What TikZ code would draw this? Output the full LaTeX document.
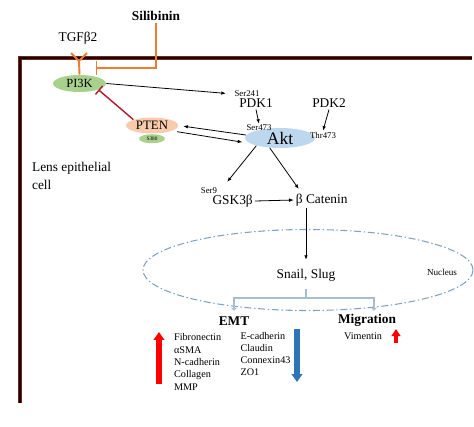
\documentclass[tikz,border=0pt]{standalone}
\usepackage{fontspec}
\setmainfont{Liberation Serif}
\usepackage{xcolor}
\usepackage{tikz}
\usetikzlibrary{positioning,arrows.meta,shapes.geometric,calc}
\definecolor{pikgreen}{HTML}{A9D18E}
\definecolor{ptenpeach}{HTML}{F8CBAD}
\definecolor{aktblue}{HTML}{BDD7EE}
\definecolor{silorange}{HTML}{ED7D31}
\definecolor{ptenred}{HTML}{B0192C}
\definecolor{nucblue}{HTML}{7FA2C4}
\definecolor{branchgray}{HTML}{A9BDD0}
\definecolor{downblue}{HTML}{2E75B6}
\definecolor{cellred}{HTML}{8B1A1A}
\tikzset{
	plain/.style = {inner sep=1pt, font=\fontsize{7.6}{9.9}\selectfont},
	site/.style = {inner sep=0.5pt, font=\fontsize{5}{6}\selectfont},
	heading/.style = {inner sep=1pt, font=\bfseries\fontsize{7.6}{9}\selectfont},
	protein/.style = {ellipse, inner sep=0, font=\fontsize{7.3}{9}\selectfont},
	marker/.style = {inner sep=1pt, align=left, font=\fontsize{5.8}{7}\selectfont},
	act/.style = {-{Latex[length=2.6pt,width=2pt]}, line width=0.45pt},
	block/.style = {-{Bar[width=2.6mm]}, line width=0.8pt},
	branch/.style = {draw=branchgray, line width=0.6pt},
	bigarrow/.style = {-{Triangle[length=4.5pt,width=6pt]}, line width=3.4pt}
}

\begin{document}
\begin{tikzpicture}[x=0.2mm, y=-0.2mm]
	\useasboundingbox (0,0) rectangle (474,426);
	
	\draw [draw=cellred, line width=0.5pt, double=black, double distance=1.5pt] (20,403) -- (20,58) -- (472,58);
	
	\node [heading] (sil) at (156,16) {Silibinin};
	\node [plain] (tgf) at (78,38) {TGFβ2};
	\node [protein, fill=pikgreen, minimum width=10.6mm, minimum height=3.4mm, font=\fontsize{7.1}{9}\selectfont] (pik) at (79.5,83.5) {PI3K};
	\coordinate (rca) at (71,53);
	\coordinate (rcb) at (87,53);
	\coordinate (rcp) at (79,61);
	\coordinate (silbar) at (96,68);
	\draw [silorange, line width=1.1pt] (rca) -- (rcp) -- (rcb);
	\draw [silorange, line width=1.1pt] (rcp) -- (pik.north);
	\draw [block, silorange, -{Bar[width=2.8mm]}] (sil.south) |- (silbar);
	
	\node [site] (sera) at (247,94) {Ser241};
	\node [plain] (pdka) at (256,103) {PDK1};
	\node [plain] (pdkb) at (329,103) {PDK2};
	\node [protein, fill=aktblue, minimum width=14mm, minimum height=4mm, font=\fontsize{10}{12}\selectfont] (akt) at (280,138) {Akt};
	\node [site] (serb) at (259,128) {Ser473};
	\node [site] (thr) at (323,135) {Thr473};
	\node [protein, fill=ptenpeach, minimum width=10.4mm, minimum height=3.2mm] (pten) at (152,125.5) {PTEN};
	\node [protein, fill=pikgreen, minimum width=5.2mm, minimum height=1.8mm, font=\fontsize{3}{3.5}\selectfont] [below=0mm of pten] (srt) {S380};
	
	\draw [act, shorten >=1.5mm] (pik.east) -- (sera.west);
	\draw [act] (pdka.south) -- (serb.north);
	\draw [act] (pdkb.south) -- (thr.north);
	\draw [block, ptenred, -{Bar[width=2.2mm]}] (pten.north west) -- (pik.south east);
	\draw [act, shorten >=1mm] (akt.175) -- (pten.east);
	\draw [act, shorten <=1mm, shorten >=1.5mm] (pten.-15) -- (akt.190);
	
	\node [site] (sern) at (209,191) {Ser9};
	\node [plain] (gsk) at (232.7,201) {GSK3β};
	\node [plain] (bcat) at (321.7,200) {β Catenin};
	\draw [act, shorten >=2.8mm] (akt.198) -- (gsk.150);
	\draw [act, shorten >=0.7mm] (akt.224) -- ([xshift=1.4mm]bcat.north west);
	\draw [act] (gsk.east) -- (bcat.west);
	
	\node [ellipse, draw=nucblue, line width=0.6pt, dash pattern=on 4pt off 1.5pt on 0.8pt off 1.5pt, minimum width=66mm, minimum height=16.2mm] (nuc) at (308,270) {};
	\node [inner sep=0.5pt, font=\fontsize{5.2}{6}\selectfont] (nuclbl) at (442,272) {Nucleus};
	\node [plain] (snail) at (306,275) {Snail, Slug};
	\draw [act, shorten >=1.4mm] (bcat.south -| snail.north) -- (snail.north);
	
	\node [heading] (emt) at (234,321) {EMT};
	\node [heading] (mig) at (367,320) {Migration};
	\coordinate (brm) at (306,298);
	\coordinate (brl) at (234,311);
	\coordinate (brr) at (374,311);
	\draw [branch, shorten <=1.2mm] (snail.south) -- (brm);
	\draw [branch, -{Stealth[length=2pt,width=3.5pt,open]}] (brm) -| (brl);
	\draw [branch, -{Stealth[length=2pt,width=3.5pt,open]}] (brm) -| (brr);
	
	\node [marker, anchor=west] (uplist) at (172,362) {Fibronectin\\αSMA\\N-cadherin\\Collagen\\MMP};
	\node [marker, anchor=west] (downlist) at (238.5,354) {E-cadherin\\Claudin\\Connexin43\\ZO1};
	\node [marker] (vim) at (363,336) {Vimentin};
	\draw [bigarrow, red] (159,384) -- (159,332);
	\draw [bigarrow, downblue] (297,329) -- (297,382);
	\draw [bigarrow, red, line width=2.4pt, -{Triangle[length=4pt,width=5pt]}] (396,343) -- (396,329);
	
	\node [plain, align=left, anchor=west] (lens) at (30,176) {Lens epithelial\\cell};
\end{tikzpicture}
\end{document}
